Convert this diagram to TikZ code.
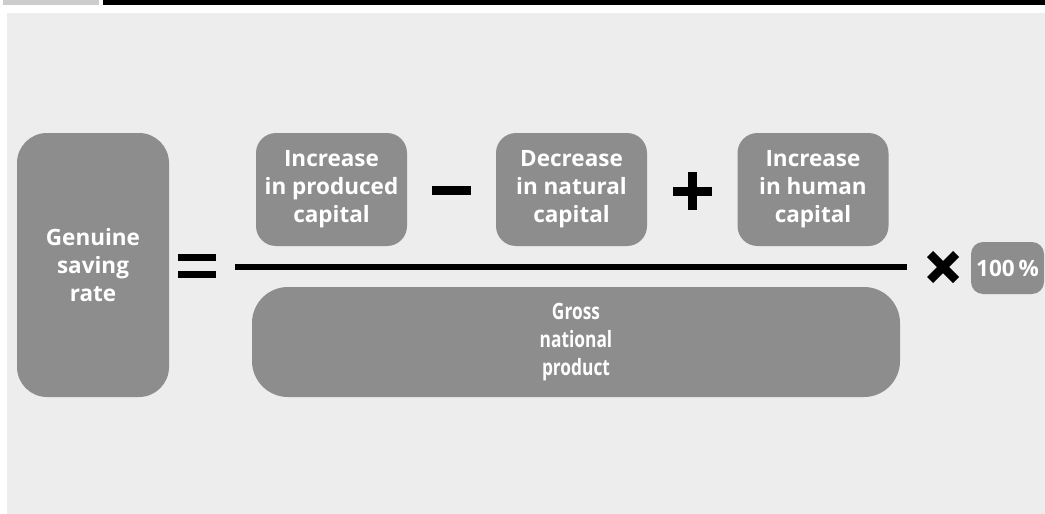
\documentclass[tikz,border=0pt]{standalone}
\usepackage{fontspec}
\setmainfont{Open Sans}
\newfontfamily\condfont[FakeStretch=0.77]{Open Sans}
\definecolor{panelgray}{HTML}{EDEDED}
\definecolor{topgray}{HTML}{CCCCCC}
\definecolor{boxgray}{HTML}{8D8D8D}
\tikzset{
  box/.style={fill=boxgray, rounded corners=20pt, text=white, align=center, inner sep=0pt,
    font=\bfseries\fontsize{22.5}{28}\selectfont},
  smallbox/.style={box, minimum width=151pt, minimum height=113pt},
  opbar/.style={fill=black},
}
\begin{document}
\begin{tikzpicture}[x=1pt,y=-1pt]
\useasboundingbox (0,0) rectangle (1045,514);
% background panel and top strip
\fill[panelgray] (7,13) rectangle (1045,514);
\fill[topgray] (3,0) rectangle (99,5);
\fill[black] (103,0) rectangle (1045,5);

\node[box, rounded corners=30pt, minimum width=152pt, minimum height=264pt] (gsr) at (93,265) {Genuine\\saving\\rate};
\node[smallbox] (ipc) at (331.5,189.5) {Increase\\in produced\\capital};
\node[smallbox] (dnc) at (571.5,189.5) {Decrease\\in natural\\capital};
\node[smallbox] (ihc) at (813,189.5) {Increase\\in human\\capital};
\node[box, rounded corners=36pt, minimum width=648pt, minimum height=110pt,
  font=\condfont\bfseries\fontsize{22.5}{28}\selectfont] (gnp) at (576,342) {Gross\\national\\product};
\node[box, rounded corners=12pt, minimum width=73pt, minimum height=52pt] (pct) at (1007.5,268) {100\,\%};

% equals sign
\fill[opbar] (178,254) rectangle (216,261);
\fill[opbar] (178,270.5) rectangle (216,277.5);
% minus
\fill[opbar] (432,186) rectangle (471,195);
% plus
\fill[opbar] (673,187) rectangle (712,195.5);
\fill[opbar] (688.2,172) rectangle (696.8,210);
% times
\draw[line width=8.5pt] (930,254) -- (956,280);
\draw[line width=8.5pt] (930,280) -- (956,254);
% fraction line
\coordinate (fl) at (235,267);
\coordinate (fr) at (907,267);
\draw[line width=6pt] (fl) -- (fr);
\end{tikzpicture}
\end{document}
